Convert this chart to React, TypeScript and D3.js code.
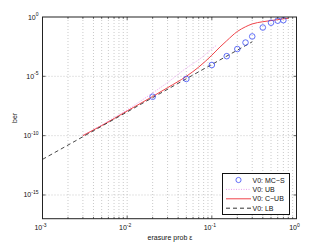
import React, { useEffect, useRef } from "react";
import * as d3 from "d3";

// erasure probability / ber values
const mcEps = [0.02, 0.05, 0.1, 0.15, 0.2, 0.25, 0.3, 0.4, 0.5, 0.6, 0.7];
const mcBer = [1.9e-7, 6e-6, 9e-5, 5e-4, 2e-3, 7e-3, 0.023, 0.13, 0.33, 0.49, 0.54];

const ubEps = [0.003, 0.005, 0.01, 0.02, 0.03, 0.05, 0.07, 0.1, 0.115];
const ubBer = [1e-10, 8e-10, 1.5e-8, 4e-7, 3e-6, 5e-5, 2.5e-4, 2e-3, 4.5e-3];

const cubEps = [0.003, 0.005, 0.01, 0.02, 0.03, 0.05, 0.07, 0.1, 0.125, 0.15, 0.2, 0.25, 0.3, 0.4, 0.5, 0.6, 0.7, 0.8];
const cubBer = [1e-10, 7e-10, 1.2e-8, 2e-7, 1.1e-6, 1e-5, 6e-5, 6e-4, 3e-3, 1e-2, 0.06, 0.15, 0.26, 0.4, 0.5, 0.6, 0.7, 0.78];

const lbEps = [0.001, 0.002, 0.005, 0.01, 0.02, 0.05, 0.1, 0.2, 0.3];
const lbBer = [1e-12, 1.6e-11, 6.25e-10, 1e-8, 1.6e-7, 6.25e-6, 1e-4, 1.6e-3, 8.1e-3];

const xTicks = [1e-3, 1e-2, 1e-1, 1e0];
const xTickExp = ["-3", "-2", "-1", "0"];
const yTicks = [1e0, 1e-5, 1e-10, 1e-15];
const yTickExp = ["0", "-5", "-10", "-15"];

const legendLabels = ["V0: MC\u2212S", "V0: UB", "V0: C\u2212UB", "V0: LB"];

const App = () => {
  const svgRef = useRef<SVGSVGElement>(null);

  useEffect(() => {
    const svg = d3.select(svgRef.current);
    svg.selectAll("*").remove();

    const W = 327, H = 246;
    const left = 42.5, right = 296.5, top = 17, bottom = 218.7;
    const font = "Liberation Sans, Arial, sans-serif";

    const x = d3.scaleLog().domain([1e-3, 1]).range([left, right]);
    const y = d3.scaleLog().domain([1e-17, 1]).range([bottom, top]);

    svg.attr("width", W).attr("height", H);
    svg.append("rect").attr("width", W).attr("height", H).attr("fill", "#fff");

    svg.append("defs").append("clipPath").attr("id", "plot")
      .append("rect").attr("x", left).attr("y", top)
      .attr("width", right - left).attr("height", bottom - top);

    // grid: x at every log tick, y at labelled decades
    const grid = svg.append("g").attr("stroke", "#bdbdbd")
      .attr("stroke-width", 0.8).attr("stroke-dasharray", "1,2");
    const xMinor = x.ticks().filter(v => v > 1e-3 && v < 1);
    xMinor.forEach(v => {
      grid.append("line").attr("x1", x(v)).attr("x2", x(v))
        .attr("y1", top).attr("y2", bottom);
    });
    yTicks.filter(v => v < 1).forEach(v => {
      grid.append("line").attr("x1", left).attr("x2", right)
        .attr("y1", y(v)).attr("y2", y(v));
    });

    const plot = svg.append("g").attr("clip-path", "url(#plot)");
    const line = d3.line<[number, number]>()
      .x(d => x(d[0])).y(d => y(d[1])).curve(d3.curveMonotoneX);

    const ub = ubEps.map((e, i) => [e, ubBer[i]] as [number, number]);
    const cub = cubEps.map((e, i) => [e, cubBer[i]] as [number, number]);
    const lb = lbEps.map((e, i) => [e, lbBer[i]] as [number, number]);

    plot.append("path").attr("d", line(ub)).attr("fill", "none")
      .attr("stroke", "#e9a0f0").attr("stroke-width", 1)
      .attr("stroke-dasharray", "1,1.5");
    plot.append("path").attr("d", line(cub)).attr("fill", "none")
      .attr("stroke", "#f0444a").attr("stroke-width", 1);
    plot.append("path").attr("d", line(lb)).attr("fill", "none")
      .attr("stroke", "#333").attr("stroke-width", 0.9)
      .attr("stroke-dasharray", "4,3");

    plot.selectAll(".mc").data(mcEps).enter().append("circle")
      .attr("cx", d => x(d)).attr("cy", (d, i) => y(mcBer[i]))
      .attr("r", 2.8).attr("fill", "none")
      .attr("stroke", "#3b4cf5").attr("stroke-width", 0.8);

    // frame and ticks
    const frame = svg.append("g").attr("stroke", "#222").attr("fill", "none");
    frame.append("rect").attr("x", left).attr("y", top)
      .attr("width", right - left).attr("height", bottom - top)
      .attr("stroke-width", 1);
    x.ticks().filter(v => v > 1e-3 && v < 1).forEach(v => {
      const major = xTicks.includes(v);
      const len = major ? 3 : 1.8;
      frame.append("line").attr("x1", x(v)).attr("x2", x(v))
        .attr("y1", bottom).attr("y2", bottom - len).attr("stroke-width", 0.7);
      frame.append("line").attr("x1", x(v)).attr("x2", x(v))
        .attr("y1", top).attr("y2", top + len).attr("stroke-width", 0.7);
    });
    yTicks.filter(v => v < 1).forEach(v => {
      frame.append("line").attr("x1", left).attr("x2", left + 3)
        .attr("y1", y(v)).attr("y2", y(v)).attr("stroke-width", 0.7);
      frame.append("line").attr("x1", right).attr("x2", right - 3)
        .attr("y1", y(v)).attr("y2", y(v)).attr("stroke-width", 0.7);
    });

    // tick labels
    const lab = svg.append("g").attr("font-family", font).attr("fill", "#111");
    xTicks.forEach((v, i) => {
      const t = lab.append("text").attr("x", x(v) - 2).attr("y", 230)
        .attr("text-anchor", "middle").attr("font-size", 7);
      t.append("tspan").text("10");
      t.append("tspan").attr("dy", -3.5).attr("font-size", 5).text(xTickExp[i]);
    });
    yTicks.forEach((v, i) => {
      const t = lab.append("text").attr("x", 38.5).attr("y", y(v) + 2.5)
        .attr("text-anchor", "end").attr("font-size", 7);
      t.append("tspan").text("10");
      t.append("tspan").attr("dy", -3.5).attr("font-size", 5).text(yTickExp[i]);
    });

    lab.append("text").attr("x", 170).attr("y", 240)
      .attr("text-anchor", "middle").attr("font-size", 7)
      .text("erasure prob \u03b5");
    lab.append("text")
      .attr("transform", `translate(17,${(top + bottom) / 2}) rotate(-90)`)
      .attr("text-anchor", "middle").attr("font-size", 7).text("ber");

    // legend
    const lx = 222.5, ly = 173.5, lw = 67, lh = 41;
    const lg = svg.append("g").attr("font-family", font);
    lg.append("rect").attr("x", lx).attr("y", ly).attr("width", lw).attr("height", lh)
      .attr("fill", "#fff").attr("stroke", "#111").attr("stroke-width", 1);
    legendLabels.forEach((txt, i) => {
      const cy = ly + 6.5 + i * 9.4;
      if (i === 0) {
        lg.append("circle").attr("cx", 238.5).attr("cy", cy).attr("r", 2.6)
          .attr("fill", "none").attr("stroke", "#3b4cf5").attr("stroke-width", 0.8);
      } else {
        const ln = lg.append("line").attr("x1", 226).attr("x2", 251)
          .attr("y1", cy).attr("y2", cy);
        if (i === 1) ln.attr("stroke", "#e9a0f0").attr("stroke-dasharray", "1,1.5");
        if (i === 2) ln.attr("stroke", "#f0444a");
        if (i === 3) ln.attr("stroke", "#333").attr("stroke-dasharray", "4,3");
      }
      lg.append("text").attr("x", 252.5).attr("y", cy + 2.5)
        .attr("font-size", 7).attr("fill", "#111").text(txt);
    });
  }, []);

  return <svg ref={svgRef} style={{ position: "absolute", left: 0, top: 0 }}></svg>;
};

export default App;
